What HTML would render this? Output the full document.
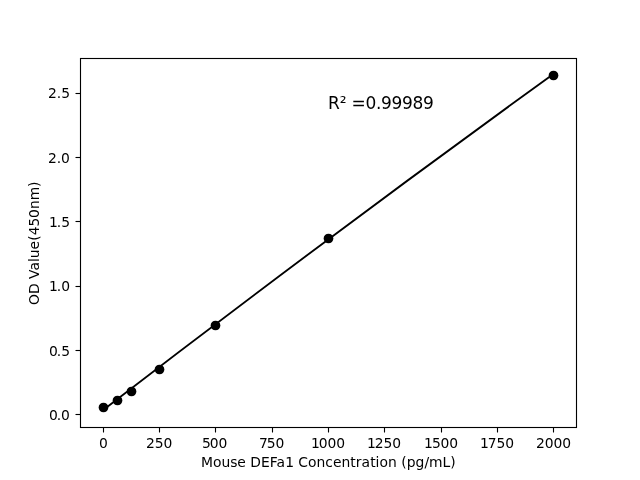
<!DOCTYPE html><html><head><meta charset="utf-8"><title>Standard curve</title>
<style>html,body{margin:0;padding:0;background:#fff}svg{display:block}text{font-family:"DejaVu Sans","Liberation Sans",sans-serif;fill:#000;white-space:pre}</style></head><body>
<svg width="640" height="480" viewBox="0 0 640 480">
<rect width="640" height="480" fill="#fff"/>
<path d="M102.545 410.400 Q328.000 237.000 553.455 74.000" fill="none" stroke="#000" stroke-width="1.850" stroke-linecap="square"/>
<circle cx="103.500" cy="407.500" r="4.861" fill="#000"/>
<circle cx="117.500" cy="400.500" r="4.861" fill="#000"/>
<circle cx="131.500" cy="391.500" r="4.861" fill="#000"/>
<circle cx="159.500" cy="369.500" r="4.861" fill="#000"/>
<circle cx="215.500" cy="325.500" r="4.861" fill="#000"/>
<circle cx="328.500" cy="238.500" r="4.861" fill="#000"/>
<circle cx="553.500" cy="75.500" r="4.861" fill="#000"/>
<line x1="103.50" x2="103.50" y1="427.50" y2="432.50" stroke="#000" stroke-width="1.111"/>
<line x1="159.50" x2="159.50" y1="427.50" y2="432.50" stroke="#000" stroke-width="1.111"/>
<line x1="215.50" x2="215.50" y1="427.50" y2="432.50" stroke="#000" stroke-width="1.111"/>
<line x1="272.50" x2="272.50" y1="427.50" y2="432.50" stroke="#000" stroke-width="1.111"/>
<line x1="328.50" x2="328.50" y1="427.50" y2="432.50" stroke="#000" stroke-width="1.111"/>
<line x1="384.50" x2="384.50" y1="427.50" y2="432.50" stroke="#000" stroke-width="1.111"/>
<line x1="441.50" x2="441.50" y1="427.50" y2="432.50" stroke="#000" stroke-width="1.111"/>
<line x1="497.50" x2="497.50" y1="427.50" y2="432.50" stroke="#000" stroke-width="1.111"/>
<line x1="553.50" x2="553.50" y1="427.50" y2="432.50" stroke="#000" stroke-width="1.111"/>
<line x1="75.50" x2="80.50" y1="414.50" y2="414.50" stroke="#000" stroke-width="1.111"/>
<line x1="75.50" x2="80.50" y1="350.50" y2="350.50" stroke="#000" stroke-width="1.111"/>
<line x1="75.50" x2="80.50" y1="286.50" y2="286.50" stroke="#000" stroke-width="1.111"/>
<line x1="75.50" x2="80.50" y1="221.50" y2="221.50" stroke="#000" stroke-width="1.111"/>
<line x1="75.50" x2="80.50" y1="157.50" y2="157.50" stroke="#000" stroke-width="1.111"/>
<line x1="75.50" x2="80.50" y1="93.50" y2="93.50" stroke="#000" stroke-width="1.111"/>
<rect x="80.50" y="58.50" width="496.00" height="369.00" fill="none" stroke="#000" stroke-width="1.111"/>
<text x="98.920" y="447.726" font-size="13.889">0</text>
<text x="145.909 154.659 163.409" y="447.726" font-size="13.889">250</text>
<text x="201.898 209.648 218.398" y="447.726" font-size="13.889">500</text>
<text x="258.886 266.636 275.386" y="447.726" font-size="13.889">750</text>
<text x="310.938 318.688 327.438 336.188" y="447.726" font-size="13.889">1000</text>
<text x="366.926 374.676 383.426 392.176" y="447.726" font-size="13.889">1250</text>
<text x="423.915 431.915 440.415 449.165" y="447.726" font-size="13.889">1500</text>
<text x="479.903 487.653 496.403 505.153" y="447.726" font-size="13.889">1750</text>
<text x="535.955 544.705 553.455 562.205" y="447.726" font-size="13.889">2000</text>
<text x="48.903 56.778 60.903" y="419.646" font-size="13.889">0.0</text>
<text x="48.903 56.653 61.153" y="355.586" font-size="13.889">0.5</text>
<text x="48.903 56.778 61.153" y="290.526" font-size="13.889">1.0</text>
<text x="48.903 56.653 61.153" y="226.716" font-size="13.889">1.5</text>
<text x="47.903 56.778 60.903" y="162.656" font-size="13.889">2.0</text>
<text x="47.903 56.653 61.153" y="97.596" font-size="13.889">2.5</text>
<text x="200.938 212.938 221.438 230.188 237.188 245.562 250.188 260.938 269.688 276.438 285.188 293.688 298.188 307.938 316.438 325.188 332.938 341.438 350.188 355.688 361.438 370.188 375.438 379.438 387.938 396.438 401.188 406.688 415.562 424.438 428.938 442.438 450.188" y="466.723" font-size="13.889">Mouse DEFa1 Concentration (pg/mL)</text>
<text x="-22.879 -11.879 -0.379 3.121 11.621 20.121 23.871 32.621 41.371 46.871 55.621 64.121 73.121 81.871 95.121" y="241.400" font-size="13.889" transform="rotate(-90 39.746 242.400)">OD Value(450nm)</text>
<text x="327.875 339.625 346.375 351.375 365.375 375.875 380.875 391.375 401.875 412.375 422.875" y="108.550" font-size="17.000">R² =0.99989</text>
</svg></body></html>
